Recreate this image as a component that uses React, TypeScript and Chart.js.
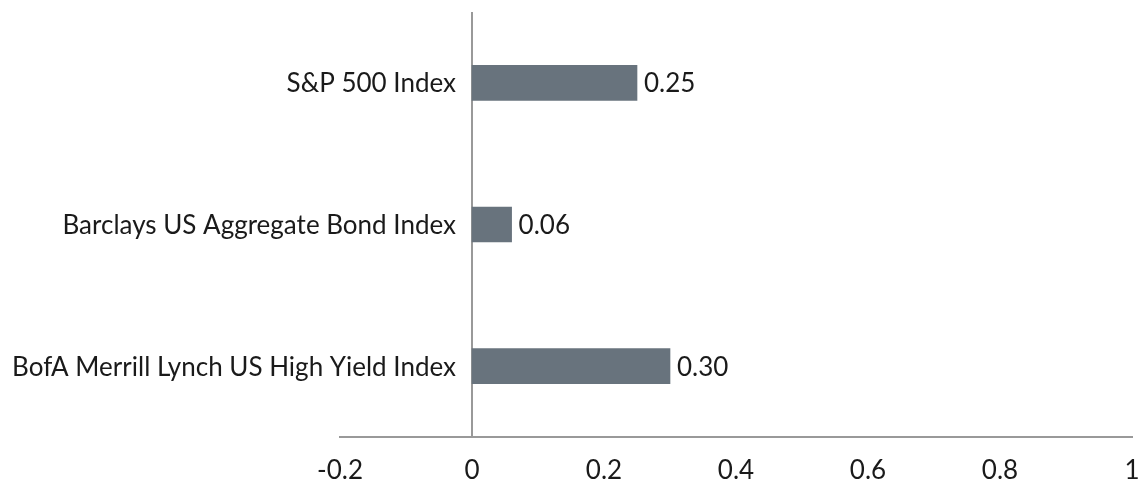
import React, { useEffect, useRef } from "react";
import { Chart, registerables } from "chart.js";

Chart.register(...registerables);

const categories = [
  "S&P 500 Index",
  "Barclays US Aggregate Bond Index",
  "BofA Merrill Lynch US High Yield Index",
];
const values = [0.25, 0.06, 0.3];
const xMin = -0.2;
const xMax = 1;
const xStep = 0.2;

const FONT = "Lato, 'Noto Sans', sans-serif";
const FONT_SIZE = 26;
const TEXT = "#1a1a1a";
const AXIS = "#999999";
const BAR = "#68737d";

const labelsPlugin = {
  id: "labelsPlugin",
  afterDatasetsDraw(chart: any) {
    const ctx = chart.ctx;
    const meta = chart.getDatasetMeta(0);
    const xs = chart.scales.x;
    const ys = chart.scales.y;
    const zeroX = xs.getPixelForValue(0);
    ctx.save();
    ctx.font = `${FONT_SIZE}px ${FONT}`;
    ctx.fillStyle = TEXT;
    ctx.textBaseline = "middle";
    // value labels
    ctx.textAlign = "left";
    meta.data.forEach((bar: any, i: number) => {
      ctx.fillText(values[i].toFixed(2), bar.x + 7, bar.y + 1);
    });
    // category labels, right-aligned against the zero line
    ctx.textAlign = "right";
    categories.forEach((c, i) => {
      ctx.fillText(c, zeroX - 16, ys.getPixelForTick(i) + 1);
    });
    ctx.restore();
  },
};

export default function App() {
  const ref = useRef<HTMLCanvasElement>(null);
  useEffect(() => {
    if (!ref.current) return;
    const chart = new Chart(ref.current, {
      type: "bar",
      data: {
        labels: categories,
        datasets: [
          {
            data: values,
            backgroundColor: BAR,
            barThickness: 35,
            borderWidth: 0,
          },
        ],
      },
      options: {
        indexAxis: "y",
        responsive: false,
        animation: false,
        layout: { padding: { top: 12, right: 11, bottom: 0, left: 0 } },
        plugins: { legend: { display: false }, tooltip: { enabled: false } },
        scales: {
          x: {
            min: xMin,
            max: xMax,
            afterFit: (s: any) => {
              s.height = 48;
              s.paddingLeft = 0;
              s.paddingRight = 0;
            },
            ticks: {
              stepSize: xStep,
              padding: 18,
              maxRotation: 0,
              color: TEXT,
              font: { family: FONT, size: FONT_SIZE },
              callback: (v: any) => String(Number(Number(v).toFixed(1))),
            },
            grid: {
              drawTicks: false,
              color: (c: any) => (c.tick && Math.abs(c.tick.value) < 1e-9 ? AXIS : "rgba(0,0,0,0)"),
              lineWidth: 2,
            },
            border: { display: true, color: AXIS, width: 2 },
          },
          y: {
            afterFit: (s: any) => {
              s.width = 340;
            },
            ticks: { display: false },
            grid: { display: false, drawTicks: false },
            border: { display: false },
          },
        },
      },
      plugins: [labelsPlugin],
    });
    return () => chart.destroy();
  }, []);
  return (
    <div style={{ position: "absolute", left: 0, top: 0, width: 1143, height: 485, background: "#fff" }}>
      <canvas ref={ref} width={1143} height={485} />
    </div>
  );
}
